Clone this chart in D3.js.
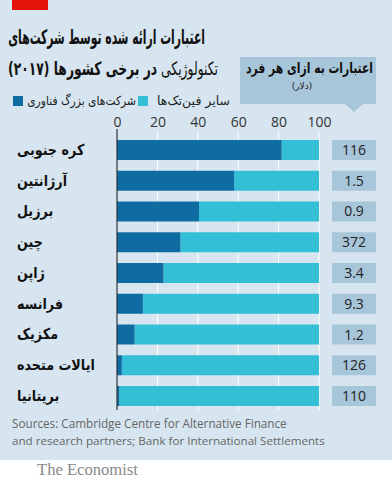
<!DOCTYPE html>
<html><head><meta charset="utf-8">
<script src="https://cdn.jsdelivr.net/npm/d3@7"></script>
<style>html,body{margin:0;padding:0;background:#fff;}svg{display:block;}</style>
</head><body>
<svg id="c" width="392" height="490"></svg>
<script>
const countries = ["کره جنوبی","آرژانتین","برزیل","چین","ژاپن","فرانسه","مکزیک","ایالات متحده","بریتانیا"];
const bigTech = [81.5, 58, 40.6, 31.4, 23, 12.8, 8.7, 2.4, 1.1];
const otherFintech = bigTech.map(v => 100 - v);
const perCapita = ["116","1.5","0.9","372","3.4","9.3","1.2","126","110"];
const xTicks = [0, 20, 40, 60, 80, 100];
const seriesNames = ["شرکت‌های بزرگ فناوری","سایر فین‌تک‌ها"];

const colDark = "#0f6ca2", colLight = "#33bfd5", bg = "#d6e5ef", boxCol = "#a8c6da";
const svg = d3.select("#c");
const arabicFont = "'DejaVu Sans', 'Noto Sans', sans-serif";
const latinFont = "'Open Sans', 'Noto Sans', sans-serif";

svg.append("rect").attr("x",0).attr("y",0).attr("width",392).attr("height",460).attr("fill",bg);
svg.append("rect").attr("x",12).attr("y",0).attr("width",36).attr("height",10).attr("fill","#e3120b");

function fit(sel, width, size){
  sel.attr("font-size", size);
  const w = sel.node().getComputedTextLength();
  sel.attr("font-size", size * width / w);
}
// keep font size (glyph height), squeeze horizontally to target width; anchored at right edge xr
function squeeze(g, text, xr, y, width){
  text.attr("x",0).attr("y",0).attr("direction","rtl").attr("text-anchor","start");
  const w = text.node().getComputedTextLength();
  const k = Math.min(1, width / w);
  g.attr("transform", `translate(${xr},${y}) scale(${k},1)`);
}

// title
const g1 = svg.append("g");
const t1 = g1.append("text").attr("font-family",arabicFont).attr("font-weight","bold").attr("font-size",20).attr("fill","#111")
  .text("اعتبارات ارائه شده توسط شرکت‌های");
squeeze(g1, t1, 205, 44, 197);
const g2 = svg.append("g");
const t2 = g2.append("text").attr("font-family",arabicFont).attr("font-size",18.5).attr("fill","#111");
t2.append("tspan").attr("font-weight","normal").text("تکنولوژیکی ");
t2.append("tspan").attr("font-weight","bold").text("در برخی کشورها (۲۰۱۷)");
squeeze(g2, t2, 218, 75, 210);

// panel
const px0 = 240, px1 = 376, py0 = 57, py1 = 104, tipX = 354;
svg.append("path").attr("fill",boxCol)
  .attr("d",`M${px0},${py0}H${px1}V${py1}H${tipX+9}L${tipX},${py1+8}L${tipX-9},${py1}H${px0}Z`);
const gp = svg.append("g");
const pt = gp.append("text").attr("font-family",arabicFont).attr("font-weight","bold").attr("font-size",15).attr("fill","#111")
  .text("اعتبارات به ازای هر فرد");
squeeze(gp, pt, 373, 73, 127);
svg.append("text").attr("x",302).attr("y",89).attr("text-anchor","middle")
  .attr("font-family",arabicFont).attr("font-size",9).attr("fill","#222").text("(دلار)");

// legend
const leg = [{name:seriesNames[0], col:colDark, sx:13, tr:136},{name:seriesNames[1], col:colLight, sx:138, tr:230}];
leg.forEach(l=>{
  svg.append("rect").attr("x",l.sx).attr("y",96).attr("width",10).attr("height",10).attr("fill",l.col);
  const gl = svg.append("g");
  const lt = gl.append("text").attr("font-family",arabicFont).attr("font-size",12.5).attr("fill","#222").text(l.name);
  squeeze(gl, lt, l.tr, 105, l.tr - l.sx - 14);
});

// scales
const x = d3.scaleLinear().domain([0,100]).range([117,319]);
const y = d3.scaleBand().domain(countries).range([140,406]).paddingInner(0.35).paddingOuter(0);

// grid
svg.append("g").selectAll("line").data(xTicks.filter(d=>d>0)).join("line")
  .attr("x1",d=>x(d)).attr("x2",d=>x(d)).attr("y1",131).attr("y2",410)
  .attr("stroke","#fff").attr("stroke-width",1);

// axis labels
const ax = svg.append("g").attr("transform","translate(0,127)")
  .call(d3.axisTop(x).tickValues(xTicks).tickSize(0).tickPadding(0));
ax.select(".domain").remove();
ax.selectAll("text").attr("font-family",latinFont).attr("font-size",14).attr("fill","#333").attr("dy",0);

// bars
const rows = countries.map((c,i)=>({c, a:bigTech[i], b:otherFintech[i], v:perCapita[i]}));
svg.append("g").selectAll("rect").data(rows).join("rect")
  .attr("x",d=>x(d.a)).attr("y",d=>y(d.c)).attr("width",d=>x(d.a+d.b)-x(d.a)).attr("height",y.bandwidth()).attr("fill",colLight);
svg.append("g").selectAll("rect").data(rows).join("rect")
  .attr("x",x(0)).attr("y",d=>y(d.c)).attr("width",d=>x(d.a)-x(0)).attr("height",y.bandwidth()).attr("fill",colDark);

// axis line
svg.append("line").attr("x1",x(0)).attr("x2",x(0)).attr("y1",129).attr("y2",410).attr("stroke","#333").attr("stroke-width",1.2);

// country labels
svg.append("g").selectAll("text").data(rows).join("text")
  .attr("x",17).attr("y",d=>y(d.c)+y.bandwidth()/2+5).attr("direction","ltr").attr("text-anchor","start")
  .attr("font-family",arabicFont).attr("font-weight","bold").attr("font-size",15).attr("fill","#111")
  .attr("unicode-bidi","plaintext")
  .attr("transform",`translate(17,0) scale(0.85,1) translate(-17,0)`)
  .text(d=>d.c);

// value boxes
svg.append("g").selectAll("rect").data(rows).join("rect")
  .attr("x",332).attr("y",d=>y(d.c)).attr("width",44).attr("height",y.bandwidth()).attr("fill",boxCol);
svg.append("g").selectAll("text").data(rows).join("text")
  .attr("x",354).attr("y",d=>y(d.c)+y.bandwidth()/2+5).attr("text-anchor","middle")
  .attr("font-family",latinFont).attr("font-size",14).attr("fill","#222").text(d=>d.v);

// sources
const s1 = svg.append("text").attr("x",12).attr("y",428).attr("font-family",latinFont).attr("fill","#666")
  .text("Sources: Cambridge Centre for Alternative Finance");
fit(s1, 275, 13);
const s2 = svg.append("text").attr("x",12).attr("y",445).attr("font-family",latinFont).attr("fill","#666")
  .text("and research partners; Bank for International Settlements");
fit(s2, 313, 13);

const ec = svg.append("text").attr("x",37).attr("y",475).attr("font-family","'Liberation Serif', 'DejaVu Serif', serif")
  .attr("fill","#888").text("The Economist");
fit(ec, 101, 15);
</script>
</body></html>
